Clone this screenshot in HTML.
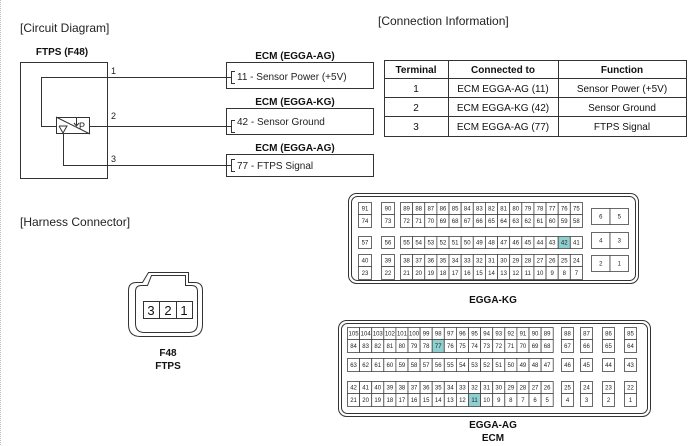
<!DOCTYPE html>
<html><head><meta charset="utf-8"><style>
body{margin:0;background:#fff;}
svg{display:block;font-family:"Liberation Sans",Arial,sans-serif;}
</style></head><body>
<svg id="s" width="699" height="446" viewBox="0 0 699 446" xmlns="http://www.w3.org/2000/svg">
<rect x="0" y="0" width="699" height="446" fill="#fff"/>
<line x1="0.5" y1="0" x2="0.5" y2="446" stroke="#bbb" stroke-dasharray="1,1"/>
<g font-size="12" fill="#222">
<text x="20" y="32">[Circuit Diagram]</text>
<text x="378" y="25">[Connection Information]</text>
<text x="20" y="226">[Harness Connector]</text>
</g>
<g font-size="10" font-weight="bold" fill="#111" text-anchor="middle">
<text x="62" y="55">FTPS (F48)</text>
<text x="295" y="59">ECM (EGGA-AG)</text>
<text x="295" y="105">ECM (EGGA-KG)</text>
<text x="295" y="151">ECM (EGGA-AG)</text>
<text x="168" y="356">F48</text>
<text x="168" y="369">FTPS</text>
<text x="493" y="303">EGGA-KG</text>
<text x="493" y="428">EGGA-AG</text>
<text x="493" y="441">ECM</text>
</g>
<g fill="none" stroke="#333" stroke-width="1">
<rect x="20.5" y="62.5" width="87" height="116"/>
<rect x="226.5" y="62.5" width="147" height="26"/>
<rect x="226.5" y="108.5" width="147" height="26"/>
<rect x="226.5" y="154.5" width="147" height="22"/>
<rect x="56.5" y="117.5" width="33" height="16"/>
<line x1="56" y1="117" x2="90" y2="134"/>
<polyline points="56.5,126.5 41.5,126.5 41.5,77.5 231.5,77.5"/>
<line x1="89" y1="126.5" x2="231" y2="126.5"/>
<polyline points="63.5,133 63.5,165.5 231.5,165.5"/>
<polyline points="235,71.5 231.5,71.5 231.5,83.5 235,83.5"/>
<polyline points="235,120.5 231.5,120.5 231.5,132.5 235,132.5"/>
<polyline points="235,159.5 231.5,159.5 231.5,171.5 235,171.5"/>
<polyline points="59,126 67,126 63,133 59,126"/>
<line x1="76.5" y1="117" x2="76.5" y2="126"/>
<polyline points="74,123 76.5,126 79,123"/>
</g>
<text x="79" y="129" font-size="9" fill="#222">P</text>
<g font-size="9" fill="#222">
<text x="111" y="74">1</text><text x="111" y="119">2</text><text x="111" y="162">3</text>
<text x="237" y="80" font-size="10">11 - Sensor Power (+5V)</text>
<text x="237" y="125" font-size="10">42 - Sensor Ground</text>
<text x="237" y="169" font-size="10">77 - FTPS Signal</text>
</g>
<g fill="none" stroke="#333">
<rect x="384.5" y="60.5" width="302" height="76"/>
<line x1="384" y1="78.5" x2="686" y2="78.5"/>
<line x1="384" y1="97.5" x2="686" y2="97.5"/>
<line x1="384" y1="116.5" x2="686" y2="116.5"/>
<line x1="448.5" y1="60" x2="448.5" y2="136"/>
<line x1="558.5" y1="60" x2="558.5" y2="136"/>
</g>
<g font-size="10" fill="#111" text-anchor="middle">
<text x="416" y="73" font-weight="bold">Terminal</text>
<text x="503" y="73" font-weight="bold">Connected to</text>
<text x="622" y="73" font-weight="bold">Function</text>
<text x="416" y="92">1</text><text x="503" y="92">ECM EGGA-AG (11)</text><text x="622" y="92">Sensor Power (+5V)</text>
<text x="416" y="111">2</text><text x="503" y="111">ECM EGGA-KG (42)</text><text x="622" y="111">Sensor Ground</text>
<text x="416" y="130">3</text><text x="503" y="130">ECM EGGA-AG (77)</text><text x="622" y="130">FTPS Signal</text>
</g>
<g fill="none" stroke="#333">
<path d="M148.5,272.5 h40 v10 h6 q8,0 8,8 v34 q0,12 -12,12 h-50 q-12,0 -12,-12 v-34 q0,-8 8,-8 h6 z"/>
<path d="M151.5,275.5 h34 v10 h6 q6,0 6,6 v32 q0,9 -9,9 h-44 q-9,0 -9,-9 v-32 q0,-6 6,-6 h6 z"/>
<rect x="143.5" y="301.5" width="49" height="17"/>
<line x1="159.5" y1="301" x2="159.5" y2="318"/>
<line x1="176.5" y1="301" x2="176.5" y2="318"/>
<rect x="348.5" y="193.5" width="290" height="90" rx="8"/>
<rect x="351.5" y="196.5" width="284" height="84" rx="6"/>
<rect x="338.5" y="320.5" width="312" height="96" rx="8"/>
<rect x="341.5" y="323.5" width="306" height="90" rx="6"/>
</g>
<g font-size="13" fill="#111" text-anchor="middle">
<text x="151" y="315">3</text><text x="168" y="315">2</text><text x="184" y="315">1</text>
</g>
<g id="cells" font-size="6" fill="#222" text-anchor="middle"></g>
</svg>
<script>
var g=document.getElementById('cells'),NS='http://www.w3.org/2000/svg';
function cell(x,y,w,h,t,hl){var r=document.createElementNS(NS,'rect');r.setAttribute('x',x+.5);r.setAttribute('y',y+.5);r.setAttribute('width',w);r.setAttribute('height',h);r.setAttribute('fill',hl?'#8fcfcf':'#fff');r.setAttribute('stroke','#444');r.setAttribute('stroke-width','0.8');g.appendChild(r);
var s=document.createElementNS(NS,'text');s.setAttribute('x',x+w/2+.5);s.setAttribute('y',y+h/2+2.6);s.textContent=t;g.appendChild(s);}
function rng(a,b){var r=[];for(var i=a;i>=b;i--)r.push(i);return r;}
// KG
function kgrow(y,h,a,b,list,hl){cell(358,y,13,h,a);cell(381,y,13,h,b);list.forEach(function(n,i){cell(400+i*12.13,y,12.13,h,n,n==hl);});}
kgrow(202,12,91,90,rng(89,75));kgrow(214,13,74,73,rng(72,58));
kgrow(236,12,57,56,rng(55,41),42);
kgrow(254,12,40,39,rng(38,24));kgrow(266,13,23,22,rng(21,7));
[[208,6,5],[232,4,3],[255,2,1]].forEach(function(a){cell(591,a[0],18.5,16,a[1]);cell(609.5,a[0],18.5,16,a[2]);});
// AG
function agrow(y,h,list,hl){list.forEach(function(n,i){cell(347+i*12.1,y,12.1,h,n,n==hl);});}
agrow(327,12,[105].concat(rng(104,89)));agrow(339,13,rng(84,68),77);
agrow(358,13,rng(63,47));
agrow(381,12,rng(42,26));agrow(393,13,rng(21,5),11);
var xs=[561,580,602,624];
[[88,67],[87,66],[86,65],[85,64]].forEach(function(p,i){cell(xs[i],327,12,12,p[0]);cell(xs[i],339,12,13,p[1]);});
[46,45,44,43].forEach(function(n,i){cell(xs[i],358,12,13,n);});
[[25,4],[24,3],[23,2],[22,1]].forEach(function(p,i){cell(xs[i],381,12,12,p[0]);cell(xs[i],393,12,13,p[1]);});
</script>
</body></html>
